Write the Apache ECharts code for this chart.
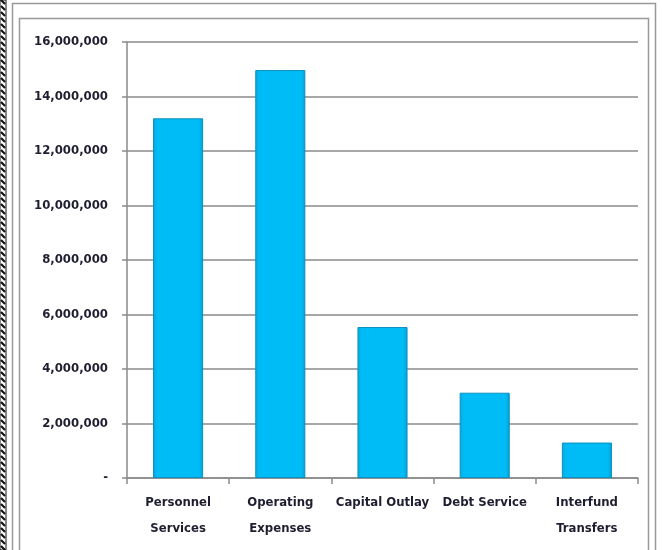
<!DOCTYPE html>
<html><head><meta charset="utf-8">
<script src="https://cdn.jsdelivr.net/npm/echarts@6/dist/echarts.min.js"></script>
<style>html,body{margin:0;padding:0;background:#fff}#c{width:662px;height:550px}</style>
</head><body><div id="c"></div>
<script>
const categories = ['Personnel\nServices', 'Operating\nExpenses', 'Capital Outlay', 'Debt Service', 'Interfund\nTransfers'];
const values = [13200000, 14970000, 5540000, 3130000, 1300000];
const yTicks = [0, 2000000, 4000000, 6000000, 8000000, 10000000, 12000000, 14000000, 16000000];

const FONT = "'Liberation Sans Narrow','DejaVu Sans Condensed','Open Sans',sans-serif";
const chart = echarts.init(document.getElementById('c'));
const dashes = [];
for (let y = 0; y < 550; y += 6) {
  dashes.push({type:'line', shape:{x1:1, y1:y, x2:5, y2:y+4}, style:{stroke:'#111', lineWidth:2.2}, z:10});
}
chart.setOption({
  animation:false,
  backgroundColor:'#fff',
  graphic:[
    {type:'rect', shape:{x:0, y:0, width:6, height:550}, style:{fill:'#fff', stroke:'#111', lineWidth:1}},
    ...dashes,
    {type:'rect', shape:{x:12.5, y:3.5, width:643, height:560}, style:{fill:'none', stroke:'#999', lineWidth:1.5}},
    {type:'rect', shape:{x:19.5, y:18.5, width:629, height:540}, style:{fill:'none', stroke:'#999', lineWidth:1.5}}
  ],
  grid:{left:127, right:24, top:42, bottom:72},
  xAxis:{
    type:'category', data:categories,
    axisLine:{lineStyle:{color:'#8a8a8a', width:1.5}},
    axisTick:{show:true, length:6, lineStyle:{color:'#8a8a8a', width:1.5}},
    axisLabel:{color:'#1e1e30', fontFamily:FONT, fontSize:13, fontWeight:'bold', lineHeight:26, margin:12, interval:0}
  },
  yAxis:{
    type:'value', min:yTicks[0], max:yTicks[yTicks.length-1], interval:2000000,
    axisLine:{show:true, lineStyle:{color:'#8a8a8a', width:1.5}},
    axisTick:{show:true, length:5, lineStyle:{color:'#8a8a8a', width:1.5}},
    splitLine:{lineStyle:{color:'#8a8a8a', width:1.5}},
    axisLabel:{color:'#1e1e30', fontFamily:FONT, fontSize:13, fontWeight:'bold', margin:19,
      formatter:v => v === 0 ? '-' : v.toLocaleString('en-US')}
  },
  series:[{
    type:'bar', data:values, barWidth:'49%',
    itemStyle:{
      color:new echarts.graphic.LinearGradient(0,0,1,0,[
        {offset:0, color:'#0aa6d8'},{offset:0.08, color:'#00bcf6'},
        {offset:0.92, color:'#00bcf6'},{offset:1, color:'#0a9bcc'}]),
      borderColor:'#0a8fc0', borderWidth:1
    }
  }]
});
</script></body></html>
